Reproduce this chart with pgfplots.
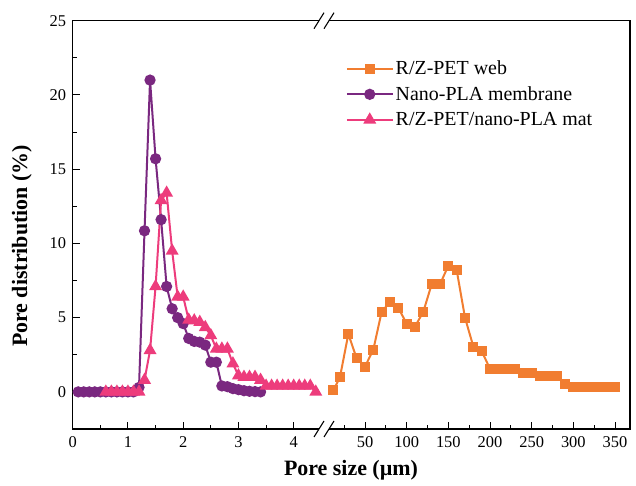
\documentclass[border=0pt]{standalone}
\usepackage{pgfplots}
\pgfplotsset{compat=1.18}
\usepackage{fontspec}
\setmainfont{Liberation Serif}
\definecolor{cOr}{RGB}{241,125,48}
\definecolor{cPu}{RGB}{122,40,128}
\definecolor{cPk}{RGB}{237,60,124}
\pgfplotsset{
  common/.style={
    scale only axis, height=408.3bp, ymin=-2.5, ymax=25,
    axis line style={draw=none}, tick align=inside,
    major tick length=7bp, minor tick length=4bp,
    every tick/.style={black, line width=1bp},
    /pgf/number format/assume math mode=true,
    tick label style={font=\fontsize{16.5}{19}\selectfont},
    clip=false,
    xtick pos=bottom,
    legend image code/.code={\draw[mark repeat=2,mark phase=2] plot coordinates {(0bp,0bp) (23bp,0bp) (46bp,0bp)};},
  },
  sOr/.style={color=cOr, line width=2bp, mark=square*, mark size=4bp, mark options={solid}},
  sPu/.style={color=cPu, line width=2bp, mark=*, mark size=4.6bp, mark options={solid}},
  sPk/.style={color=cPk, line width=2bp, mark=triangle*, mark size=5.5bp, mark options={solid}},
}
\begin{document}
\begin{tikzpicture}
\useasboundingbox (-72.7bp,-57bp) rectangle (563.3bp,429bp);
\begin{axis}[common, at={(0,0)}, anchor=south west, width=246.3bp,
  xmin=0, xmax=4.458,
  xtick={0,1,2,3,4}, minor xtick={0.5,1.5,2.5,3.5},
  ytick={0,5,10,15,20,25}, minor ytick={2.5,7.5,12.5,17.5,22.5},
  ytick pos=left,
  yticklabel style={xshift=-3bp},
  xticklabel style={yshift=-4bp},
  ylabel={\bfseries Pore distribution (\%)},
  ylabel style={font=\fontsize{22}{26}\selectfont, at={(axis description cs:-0.206,0.448)}, anchor=center},
  xlabel={\bfseries Pore size (µm)},
  xlabel style={font=\fontsize{22}{26}\selectfont, at={(axis description cs:1.13,-0.1)}, anchor=center},
]
\draw[line width=1.1bp] (rel axis cs:1,1) -- (rel axis cs:0,1) -- (rel axis cs:0,0) -- (rel axis cs:1,0);
\addplot[sPu] coordinates {
(0.1,0) (0.2,0) (0.3,0) (0.4,0) (0.5,0) (0.6,0) (0.7,0) (0.8,0) (0.9,0) (1.0,0) (1.1,0)
(1.2,0.3) (1.3,10.85) (1.4,21.0) (1.5,15.7) (1.6,11.6) (1.7,7.1) (1.8,5.6) (1.9,5.0)
(2.0,4.6) (2.1,3.6) (2.2,3.4) (2.3,3.35) (2.4,3.15) (2.5,2.0) (2.6,2.0) (2.7,0.4)
(2.8,0.35) (2.9,0.22) (3.0,0.15) (3.1,0.08) (3.2,0.04) (3.3,0.02) (3.4,0.0)
};
\addplot[sPk] coordinates {
(0.6,0) (0.7,0) (0.8,0) (0.9,0) (1.0,0) (1.1,0) (1.2,0)
(1.3,0.8) (1.4,2.8) (1.5,7.1) (1.6,12.9) (1.7,13.4) (1.8,9.5) (1.9,6.4) (2.0,6.4)
(2.1,4.85) (2.2,4.8) (2.3,4.7) (2.4,4.35) (2.5,3.8) (2.6,2.9) (2.7,2.9) (2.8,2.9)
(2.9,1.9) (3.0,1.1) (3.1,1.0) (3.2,1.0) (3.3,1.0) (3.4,0.8) (3.5,0.4) (3.6,0.4)
(3.7,0.4) (3.8,0.4) (3.9,0.4) (4.0,0.4) (4.1,0.4) (4.2,0.4) (4.3,0.4) (4.4,0.0)
};
\end{axis}
\begin{axis}[common, at={(256.3bp,0)}, anchor=south west, width=301bp,
  xmin=6.8, xmax=368,
  xtick={50,100,...,350}, minor xtick={25,75,...,325},
  ytick=\empty,
  xticklabel style={yshift=-4bp},
  legend style={at={(axis description cs:0.055,0.907)}, anchor=north west, draw=none, fill=none,
    font=\fontsize{20}{24}\selectfont, row sep=6.5bp, inner sep=0pt},
  legend cell align=left,
]
\draw[line width=1.1bp] (rel axis cs:0,0) -- (rel axis cs:1,0) -- (rel axis cs:1,1) -- (rel axis cs:0,1);
\addplot[sOr] coordinates {
(12,0.1) (20,1.0) (30,3.9) (40,2.25) (50,1.7) (60,2.85) (70,5.4) (80,6.05) (90,5.65)
(100,4.6) (110,4.4) (120,5.4) (130,7.25) (140,7.25) (150,8.5) (160,8.2) (170,5.0)
(180,3.05) (190,2.75) (200,1.55) (210,1.55) (220,1.55) (230,1.55) (240,1.25) (250,1.25)
(260,1.05) (270,1.05) (280,1.05) (290,0.55) (300,0.35) (310,0.35) (320,0.35) (330,0.35)
(340,0.35) (350,0.35)
};
\addlegendentry{R/Z-PET web}
\addlegendimage{sPu}
\addlegendentry{Nano-PLA membrane}
\addlegendimage{sPk}
\addlegendentry{R/Z-PET/nano-PLA mat}
\end{axis}
\draw[line width=1.1bp] (241.3bp,-8bp) -- (251.3bp,8bp) (251.3bp,-8bp) -- (261.3bp,8bp);
\draw[line width=1.1bp] (241.3bp,400.3bp) -- (251.3bp,416.3bp) (251.3bp,400.3bp) -- (261.3bp,416.3bp);
\end{tikzpicture}
\end{document}
